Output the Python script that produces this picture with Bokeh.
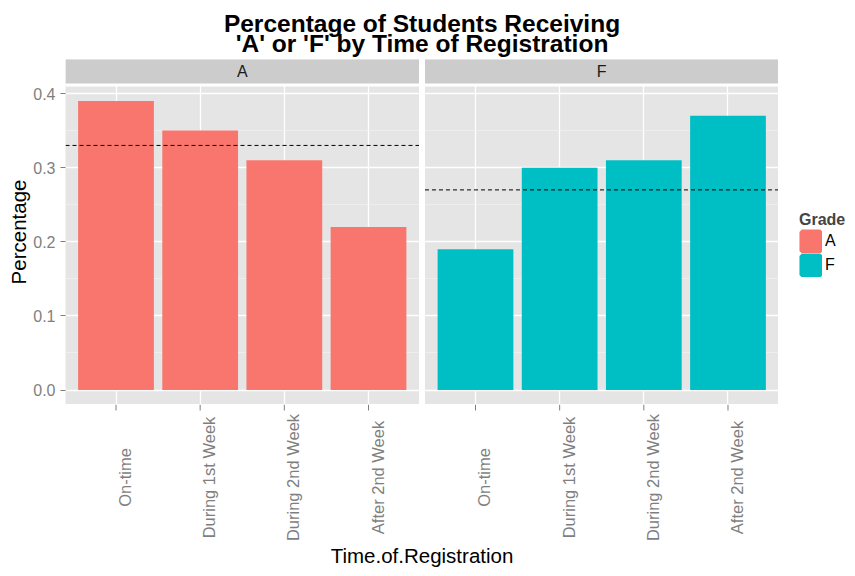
import math
from bokeh.plotting import figure
from bokeh.layouts import column, row
from bokeh.models import (ColumnDataSource, FactorRange, Range1d, FixedTicker,
                          CategoricalTicker, Legend, LegendItem)
from bokeh.core.properties import value
from bokeh.embed import file_html
from bokeh.resources import INLINE

# ---------------- data ----------------
times = ["On-time", "During 1st Week", "During 2nd Week", "After 2nd Week"]
grades = ["A", "F"]
pct_A = [0.39, 0.35, 0.31, 0.22]
pct_F = [0.19, 0.30, 0.31, 0.37]
mean_A = 0.33
mean_F = 0.27
y_ticks = [0.0, 0.1, 0.2, 0.3, 0.4]
y_labels = ["0.0", "0.1", "0.2", "0.3", "0.4"]

title_lines = ["Percentage of Students Receiving", "'A' or 'F' by Time of Registration"]
x_title = "Time.of.Registration"
y_title = "Percentage"
legend_title = "Grade"

# ---------------- style / layout ----------------
colors = {"A": "#F8766D", "F": "#00BFC4"}
FONT = "Liberation Sans"
ML, FRAME_W, LEG_W = 65, 713, 69
W = ML + FRAME_W
TITLE_H, MAIN_H, BOTTOM_H = 59, 345, 164
TOTAL_H = TITLE_H + MAIN_H + BOTTOM_H
PANEL_H = 318
STRIP_H = MAIN_H - PANEL_H

ymax = max(pct_A + pct_F)
ylo = -0.05 * ymax
yhi = ymax * 1.05
PX = (yhi - ylo) / PANEL_H
ytop = yhi + STRIP_H * PX

factors = [(g, t) for g in grades for t in times]
xr = FactorRange(factors=factors, group_padding=0.271, factor_padding=0.0,
                 range_padding=0.1, range_padding_units="absolute")
yr = Range1d(ylo, ytop)
centre = (grades[0], times[-1], 0.6355)


def bare(width, height, x_range, y_range, left):
    f = figure(width=width, height=height, x_range=x_range, y_range=y_range,
               output_backend="svg", toolbar_location=None,
               x_axis_location=None, y_axis_location=None,
               min_border_left=left, min_border_right=0,
               min_border_top=0, min_border_bottom=0)
    f.outline_line_color = None
    f.background_fill_color = "white"
    f.border_fill_color = "white"
    f.xgrid.visible = False
    f.ygrid.visible = False
    return f


# ---------------- title ----------------
pt = bare(W, TITLE_H, xr, Range1d(0, TITLE_H), ML)
pt.text(x=[centre, centre], y=[35.6, 15.6], text=title_lines, text_align="center",
        text_baseline="middle", text_font=value(FONT), text_font_size="24.5px",
        text_font_style="bold", text_color="black")

# ---------------- main panels ----------------
p = figure(width=W, height=MAIN_H, x_range=xr, y_range=yr,
           output_backend="svg", toolbar_location=None,
           min_border_left=ML, min_border_right=0, min_border_top=0,
           min_border_bottom=0)
p.background_fill_color = "#E5E5E5"
p.border_fill_color = "white"
p.outline_line_color = None
p.xaxis.visible = False

yticker = FixedTicker(ticks=y_ticks,
                      minor_ticks=[(a + b) / 2 for a, b in zip(y_ticks, y_ticks[1:])])
p.yaxis.ticker = yticker
p.ygrid.ticker = yticker
p.xgrid.ticker = CategoricalTicker()
p.ygrid.grid_line_color = "white"
p.ygrid.grid_line_width = 1.3
p.ygrid.minor_grid_line_color = "#F2F2F2"
p.ygrid.minor_grid_line_width = 0.7
p.xgrid.grid_line_color = "white"
p.xgrid.grid_line_width = 1.3

ya = p.yaxis[0]
ya.major_label_overrides = {t: l for t, l in zip(y_ticks, y_labels)}
ya.axis_line_color = None
ya.major_tick_line_color = "#7F7F7F"
ya.major_tick_out = 5
ya.major_tick_in = 0
ya.minor_tick_line_color = None
ya.major_label_text_color = "#7F7F7F"
ya.major_label_text_font = FONT
ya.major_label_text_font_size = "16px"
ya.major_label_standoff = 5
ya.axis_label = y_title
ya.axis_label_text_font = FONT
ya.axis_label_text_font_size = "20.5px"
ya.axis_label_text_font_style = "normal"
ya.axis_label_text_color = "black"
ya.axis_label_standoff = 0

sources = {}
for g, vals in zip(grades, [pct_A, pct_F]):
    sources[g] = ColumnDataSource(dict(x=[(g, t) for t in times], top=vals))
    p.vbar(x="x", top="top", bottom=0, width=0.9, source=sources[g],
           fill_color=colors[g], line_color=None)

seg = ColumnDataSource(dict(
    x0=[(g, times[0], -0.6) for g in grades],
    x1=[(g, times[-1], 0.6) for g in grades],
    y=[mean_A, mean_F]))
p.segment(x0="x0", y0="y", x1="x1", y1="y", source=seg, line_color="black",
          line_width=1, line_dash="4 3")

# white band above panels, grey strips, white gap between panels
p.quad(left=[(grades[0], times[0], -0.7)], right=[(grades[-1], times[-1], 0.7)],
       bottom=[yhi], top=[ytop + 1], fill_color="white", line_color=None)
strip = ColumnDataSource(dict(
    left=[(g, times[0], -0.6) for g in grades],
    right=[(g, times[-1], 0.6) for g in grades],
    bottom=[yhi + 3 * PX] * len(grades), top=[ytop + 1] * len(grades)))
p.quad(left="left", right="right", bottom="bottom", top="top", source=strip,
       fill_color="#CCCCCC", line_color=None)
p.quad(left=[(grades[0], times[-1], 0.6)], right=[(grades[1], times[0], -0.6)],
       bottom=[ylo - 1], top=[ytop + 1], fill_color="white", line_color=None)
p.text(x=[(g, times[1], 0.5) for g in grades],
       y=[(yhi + 3 * PX + ytop) / 2] * len(grades), text=grades,
       text_align="center", text_baseline="middle", text_font=value(FONT),
       text_font_size="16px", text_color="#1A1A1A")

# ---------------- x axis ticks, labels and title ----------------
pb = bare(W, BOTTOM_H, xr, Range1d(-BOTTOM_H, 0), ML)
ticks = ColumnDataSource(dict(x=factors, y0=[0] * len(factors), y1=[-6] * len(factors)))
pb.segment(x0="x", y0="y0", x1="x", y1="y1", source=ticks, line_color="#7F7F7F",
           line_width=1)
lab = ColumnDataSource(dict(x=factors, y=[-73] * len(factors),
                            text=[t for g in grades for t in times]))
pb.text(x="x", y="y", text="text", source=lab, angle=math.pi / 2,
        text_align="center", text_baseline="top", text_font=value(FONT),
        text_font_size="16.5px", text_color="#7F7F7F")
pb.text(x=[centre], y=[-150.8], text=[x_title], text_align="center",
        text_baseline="middle", text_font=value(FONT), text_font_size="20.5px",
        text_color="black")

# ---------------- legend (its own strip on the right) ----------------
pl = bare(LEG_W, TOTAL_H, xr, yr, 0)
leg_r = {}
for g in grades:
    leg_r[g] = pl.vbar(x="x", top="top", bottom=0, width=0.9, source=sources[g],
                       fill_color=colors[g], line_color=colors[g], line_width=4.7,
                       visible=False)
legend = Legend(items=[LegendItem(label=value(g), renderers=[leg_r[g]]) for g in grades],
                location=(21, TOTAL_H - 277), title=legend_title, padding=0, margin=0,
                spacing=0, glyph_width=23, glyph_height=24, label_height=24,
                label_standoff=3, border_line_color=None, background_fill_alpha=0,
                inactive_fill_alpha=0,
                label_text_font=FONT, label_text_font_size="16px",
                label_text_color="black", title_text_font=FONT,
                title_text_font_size="16px", title_text_font_style="bold",
                title_standoff=0)
pl.add_layout(legend)

layout = row(column(pt, p, pb, spacing=0), pl, spacing=0)
open("out.html", "w").write(file_html(layout, INLINE))
